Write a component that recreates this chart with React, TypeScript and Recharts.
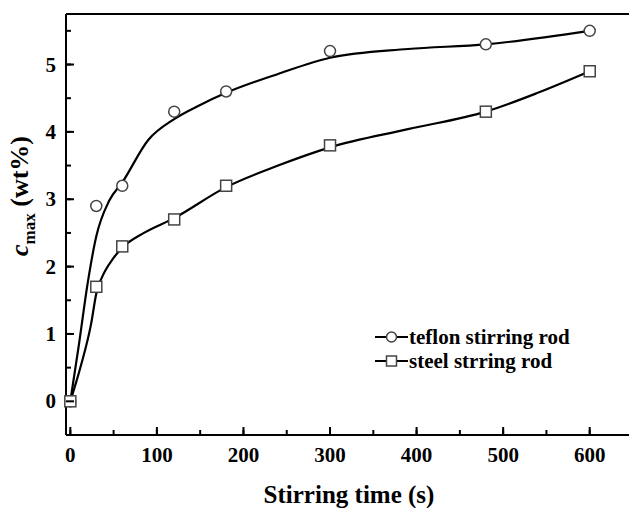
import React from 'react'
import { LineChart, Line, XAxis, YAxis } from 'recharts'

// measured points
const times = [0, 30, 60, 120, 180, 300, 480, 600]
const teflon = [0, 2.9, 3.2, 4.3, 4.6, 5.2, 5.3, 5.5]
const steel = [0, 1.7, 2.3, 2.7, 3.2, 3.8, 4.3, 4.9]

// fitted curves
const teflonFitT = [0, 10, 20, 30, 45, 60, 90, 120, 150, 180, 240, 300, 390, 480, 600]
const teflonFitV = [0, 0.85, 1.75, 2.45, 2.98, 3.25, 3.88, 4.19, 4.4, 4.58, 4.86, 5.1, 5.23, 5.3, 5.5]
const steelFitT = [0, 12, 24, 30, 40, 50, 60, 85, 120, 180, 240, 300, 390, 480, 540, 600]
const steelFitV = [0, 0.52, 1.15, 1.6, 1.93, 2.13, 2.28, 2.5, 2.72, 3.18, 3.5, 3.77, 4.04, 4.3, 4.58, 4.9]

const seriesNames = ['teflon stirring rod', 'steel strring rod']

const xTicks = [0, 50, 100, 150, 200, 250, 300, 350, 400, 450, 500, 550, 600, 650]
const yTicks = [-0.5, 0, 0.5, 1, 1.5, 2, 2.5, 3, 3.5, 4, 4.5, 5, 5.5]

const points = times.map((t, i) => ({ t, teflon: teflon[i], steel: steel[i] }))
const teflonFit = teflonFitT.map((t, i) => ({ t, v: teflonFitV[i] }))
const steelFit = steelFitT.map((t, i) => ({ t, v: steelFitV[i] }))

const FONT = '"Liberation Serif", "Times New Roman", serif'

// built-in tick lines point inward (negative tickSize); majors get a longer mark + label here
const XTick = (props: any) => {
  const { x, y, payload } = props
  const major = payload.value % 100 === 0
  return (
    <g>
      {major && <rect x={x - 1} y={y - 8} width={2} height={8} fill="#000" />}
      {major && (
        <text x={x} y={y + 27} textAnchor="middle" fontFamily={FONT} fontWeight="bold" fontSize={21} fill="#000">
          {payload.value}
        </text>
      )}
    </g>
  )
}

const YTick = (props: any) => {
  const { x, y, payload } = props
  const major = Number.isInteger(payload.value)
  return (
    <g>
      {major && <rect x={x} y={y - 1} width={8} height={2} fill="#000" />}
      {major && (
        <text x={x - 10} y={y + 7} textAnchor="end" fontFamily={FONT} fontWeight="bold" fontSize={21} fill="#000">
          {payload.value}
        </text>
      )}
    </g>
  )
}

const Circle = ({ cx, cy }: any) => (
  <circle cx={cx} cy={cy} r={5.5} fill="#fff" stroke="#444" strokeWidth={1.5} />
)

const Square = ({ cx, cy }: any) => (
  <rect x={cx - 5.5} y={cy - 5.5} width={11} height={11} fill="#fff" stroke="#444" strokeWidth={1.5} />
)

// titles and top frame line, drawn over the chart
const Overlay = () => (
  <svg width={629} height={508} style={{ position: 'absolute', left: 0, top: 0, pointerEvents: 'none' }}>
    <line x1={66} x2={629} y1={14} y2={14} stroke="#000" strokeWidth={2} />
    <text
      x={28}
      y={196}
      transform="rotate(-90, 28, 196)"
      textAnchor="middle"
      fontFamily={FONT}
      fontWeight="bold"
      fontSize={26}
      fill="#000"
    >
      <tspan fontStyle="italic">c</tspan>
      <tspan fontSize={17} dy={7}>max</tspan>
      <tspan dy={-7}> (wt%)</tspan>
    </text>
    <text x={349} y={503} textAnchor="middle" fontFamily={FONT} fontWeight="bold" fontSize={25} fill="#000">
      Stirring time (s)
    </text>
  </svg>
)

const LegendBox = () => (
  <div
    style={{
      position: 'absolute',
      left: 375,
      top: 325,
      fontFamily: FONT,
      fontWeight: 'bold',
      fontSize: 21,
      color: '#000',
    }}
  >
    {seriesNames.map((name, i) => (
      <div key={name} style={{ display: 'flex', alignItems: 'center', height: 24 }}>
        <svg width={33} height={14} style={{ marginRight: 1 }}>
          <line x1={0} x2={33} y1={7} y2={7} stroke="#000" strokeWidth={2} />
          {i === 0 ? (
            <circle cx={16.5} cy={7} r={5} fill="#fff" stroke="#444" strokeWidth={1.5} />
          ) : (
            <rect x={11.5} y={2} width={10} height={10} fill="#fff" stroke="#444" strokeWidth={1.5} />
          )}
        </svg>
        <span>{name}</span>
      </div>
    ))}
  </div>
)

export default function App() {
  return (
    <div style={{ position: 'absolute', left: 0, top: 0, width: 629, height: 508, overflow: 'hidden', background: '#fff' }}>
      <LineChart width={633} height={508} margin={{ top: 14, right: 0, bottom: 0, left: 0 }}>
        <XAxis
          dataKey="t"
          type="number"
          domain={[-5, 650]}
          ticks={xTicks}
          interval={0}
          height={73}
          tickSize={-5}
          tickMargin={5}
          tickLine={{ stroke: '#000', strokeWidth: 2 }}
          tick={<XTick />}
          axisLine={{ stroke: '#000', strokeWidth: 2 }}
        />
        <YAxis
          type="number"
          domain={[-0.5, 5.75]}
          ticks={yTicks}
          interval={0}
          width={66}
          tickSize={-5}
          tickMargin={5}
          tickLine={{ stroke: '#000', strokeWidth: 2 }}
          tick={<YTick />}
          axisLine={{ stroke: '#000', strokeWidth: 2 }}
        />
        <Line
          data={teflonFit}
          dataKey="v"
          type="monotone"
          stroke="#000"
          strokeWidth={2.2}
          dot={false}
          isAnimationActive={false}
        />
        <Line
          data={steelFit}
          dataKey="v"
          type="monotone"
          stroke="#000"
          strokeWidth={2.2}
          dot={false}
          isAnimationActive={false}
        />
        <Line
          data={points}
          dataKey="teflon"
          name={seriesNames[0]}
          stroke="none"
          dot={<Circle />}
          activeDot={false}
          isAnimationActive={false}
        />
        <Line
          data={points}
          dataKey="steel"
          name={seriesNames[1]}
          stroke="none"
          dot={<Square />}
          activeDot={false}
          isAnimationActive={false}
        />
      </LineChart>
      <Overlay />
      <LegendBox />
    </div>
  )
}
